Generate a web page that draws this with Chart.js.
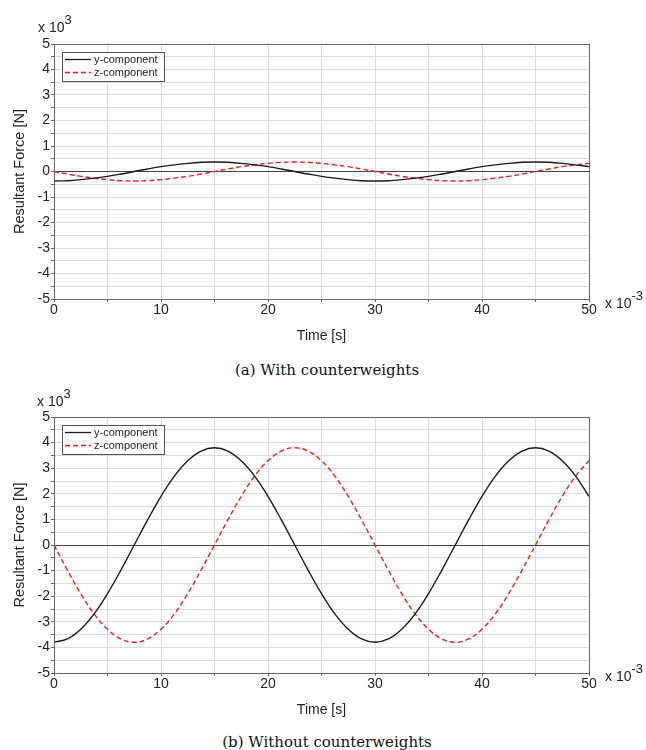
<!DOCTYPE html>
<html>
<head>
<meta charset="utf-8">
<script src="https://cdn.jsdelivr.net/npm/chart.js@4.4.1/dist/chart.umd.min.js"></script>
<style>
  body { margin: 0; background: #fff; width: 646px; height: 750px; position: relative; overflow: hidden; }
  canvas { position: absolute; left: 0; }
  .lbl { position: absolute; font-family: "Liberation Sans", Arial, sans-serif; font-size: 14px; line-height: 16px; color: #222; white-space: nowrap; }
  .lbl sup { font-size: 13px; position: relative; top: -2px; }
  .cap { position: absolute; left: 4px; width: 646px; text-align: center; font-family: "DejaVu Serif", serif; font-size: 15px; line-height: 20px; color: #111; }
</style>
</head>
<body>
<canvas id="chartA" width="646" height="350" style="top:0"></canvas>
<canvas id="chartB" width="646" height="344" style="top:380px"></canvas>

<div class="lbl" style="left:38px; top:14px">x 10<sup>3</sup></div>
<div class="lbl" style="left:605px; top:290px">x 10<sup>-3</sup></div>
<div class="cap" style="top:360px">(a) With counterweights</div>

<div class="lbl" style="left:37px; top:388px">x 10<sup>3</sup></div>
<div class="lbl" style="left:605px; top:663px">x 10<sup>-3</sup></div>
<div class="cap" style="top:732px">(b) Without counterweights</div>

<script>
// time in ms (axis is x 10^-3 s), forces in kN (axis is x 10^3 N)
var time = [0, 1.25, 2.5, 3.75, 5, 6.25, 7.5, 8.75, 10, 11.25, 12.5, 13.75, 15, 16.25, 17.5, 18.75, 20,
    21.25, 22.5, 23.75, 25, 26.25, 27.5, 28.75, 30, 31.25, 32.5, 33.75, 35, 36.25, 37.5, 38.75, 40,
    41.25, 42.5, 43.75, 45, 46.25, 47.5, 48.75, 50];

// (a) with counterweights
var yWith = [-0.37, -0.36, -0.32, -0.26, -0.19, -0.10, 0, 0.10, 0.19, 0.26, 0.32, 0.36, 0.37, 0.36, 0.32, 0.26, 0.19,
    0.10, 0, -0.10, -0.19, -0.26, -0.32, -0.36, -0.37, -0.36, -0.32, -0.26, -0.19, -0.10, 0, 0.10, 0.19,
    0.26, 0.32, 0.36, 0.37, 0.36, 0.32, 0.26, 0.19];
var zWith = [0, -0.10, -0.19, -0.26, -0.32, -0.36, -0.37, -0.36, -0.32, -0.26, -0.19, -0.10, 0, 0.10, 0.19, 0.26, 0.32,
    0.36, 0.37, 0.36, 0.32, 0.26, 0.19, 0.10, 0, -0.10, -0.19, -0.26, -0.32, -0.36, -0.37, -0.36, -0.32,
    -0.26, -0.19, -0.10, 0, 0.10, 0.19, 0.26, 0.32];

// (b) without counterweights
var yWithout = [-3.8, -3.67, -3.29, -2.69, -1.9, -0.98, 0, 0.98, 1.9, 2.69, 3.29, 3.67, 3.8, 3.67, 3.29, 2.69, 1.9,
    0.98, 0, -0.98, -1.9, -2.69, -3.29, -3.67, -3.8, -3.67, -3.29, -2.69, -1.9, -0.98, 0, 0.98, 1.9,
    2.69, 3.29, 3.67, 3.8, 3.67, 3.29, 2.69, 1.9];
var zWithout = [0, -0.98, -1.9, -2.69, -3.29, -3.67, -3.8, -3.67, -3.29, -2.69, -1.9, -0.98, 0, 0.98, 1.9, 2.69, 3.29,
    3.67, 3.8, 3.67, 3.29, 2.69, 1.9, 0.98, 0, -0.98, -1.9, -2.69, -3.29, -3.67, -3.8, -3.67, -3.29,
    -2.69, -1.9, -0.98, 0, 0.98, 1.9, 2.69, 3.29];

var seriesNames = ['y-component', 'z-component'];
var yTicks = { min: -5, max: 5, step: 0.5 };
var xTicks = { min: 0, max: 50, step: 5 };

var FONT = '"Liberation Sans", Arial, sans-serif';

function pts(vals) {
    return vals.map(function (v, i) { return { x: time[i], y: v }; });
}

// legend box drawn inside the plot, top left
var boxLegend = {
    id: 'boxLegend',
    afterDatasetsDraw: function (chart) {
        var ctx = chart.ctx, a = chart.chartArea;
        var x = a.left + 8, y = a.top + 8, w = 102, h = 29;
        ctx.save();
        ctx.fillStyle = '#fff';
        ctx.fillRect(x, y, w, h);
        ctx.strokeStyle = '#555';
        ctx.lineWidth = 1;
        ctx.strokeRect(x + 0.5, y + 0.5, w, h);
        ctx.font = '11px ' + FONT;
        ctx.textBaseline = 'middle';
        chart.data.datasets.forEach(function (ds, i) {
            var ry = Math.round(y + 7 + i * 13) + 0.5;
            ctx.strokeStyle = ds.borderColor;
            ctx.lineWidth = 1.3;
            ctx.setLineDash(ds.borderDash || []);
            ctx.beginPath();
            ctx.moveTo(x + 3, ry);
            ctx.lineTo(x + 29, ry);
            ctx.stroke();
            ctx.setLineDash([]);
            ctx.fillStyle = '#222';
            ctx.fillText(ds.label, x + 32, ry);
        });
        ctx.restore();
    }
};

// box round the plot area
var frame = {
    id: 'frame',
    afterDraw: function (chart) {
        var ctx = chart.ctx, a = chart.chartArea;
        ctx.save();
        ctx.strokeStyle = '#666';
        ctx.lineWidth = 1;
        ctx.strokeRect(Math.round(a.left) + 0.5, Math.round(a.top) + 0.5,
            Math.round(a.right - a.left), Math.round(a.bottom - a.top));
        ctx.restore();
    }
};

function makeChart(id, yVals, zVals, topPad) {
    var ctx = document.getElementById(id).getContext('2d');
    return new Chart(ctx, {
        type: 'line',
        data: {
            datasets: [{
                label: seriesNames[0],
                data: pts(yVals),
                borderColor: '#1a1a1a',
                borderWidth: 1.4,
                pointRadius: 0,
                tension: 0.4,
                fill: false
            }, {
                label: seriesNames[1],
                data: pts(zVals),
                borderColor: '#ee1c1c',
                borderWidth: 1.4,
                borderDash: [5, 3],
                pointRadius: 0,
                tension: 0.4,
                fill: false
            }]
        },
        options: {
            responsive: false,
            animation: false,
            layout: { padding: { top: topPad, right: 57, left: 0, bottom: 0 } },
            plugins: {
                legend: { display: false },
                tooltip: { enabled: false }
            },
            scales: {
                x: {
                    type: 'linear',
                    min: xTicks.min,
                    max: xTicks.max,
                    afterFit: function (s) { s.height = 51; },
                    grid: {
                        color: '#dcdcdc',
                        tickColor: '#666',
                        tickLength: 3
                    },
                    border: { color: '#666' },
                    ticks: {
                        stepSize: xTicks.step,
                        autoSkip: false,
                        maxRotation: 0,
                        padding: 0,
                        color: '#222',
                        font: { family: FONT, size: 14 },
                        callback: function (v) { return v % 10 === 0 ? v : ''; }
                    },
                    title: {
                        display: true,
                        text: 'Time [s]',
                        color: '#222',
                        font: { family: FONT, size: 14 },
                        padding: { top: 0, bottom: 5 }
                    }
                },
                y: {
                    min: yTicks.min,
                    max: yTicks.max,
                    afterFit: function (s) { s.width = 54; },
                    grid: {
                        color: function (c) { return c.tick && c.tick.value === 0 ? '#444' : '#dcdcdc'; },
                        tickColor: '#666',
                        tickLength: 3
                    },
                    border: { color: '#666' },
                    ticks: {
                        stepSize: yTicks.step,
                        autoSkip: false,
                        padding: 1,
                        color: '#222',
                        font: { family: FONT, size: 14 },
                        callback: function (v) { return Number.isInteger(v) ? v : ''; }
                    },
                    title: {
                        display: true,
                        text: 'Resultant Force [N]',
                        color: '#222',
                        font: { family: FONT, size: 14.5 },
                        padding: { top: 11, bottom: 0 }
                    }
                }
            }
        },
        plugins: [boxLegend, frame]
    });
}

window.onload = function () {
    makeChart('chartA', yWith, zWith, 44);
    makeChart('chartB', yWithout, zWithout, 37);
};
</script>
</body>
</html>
